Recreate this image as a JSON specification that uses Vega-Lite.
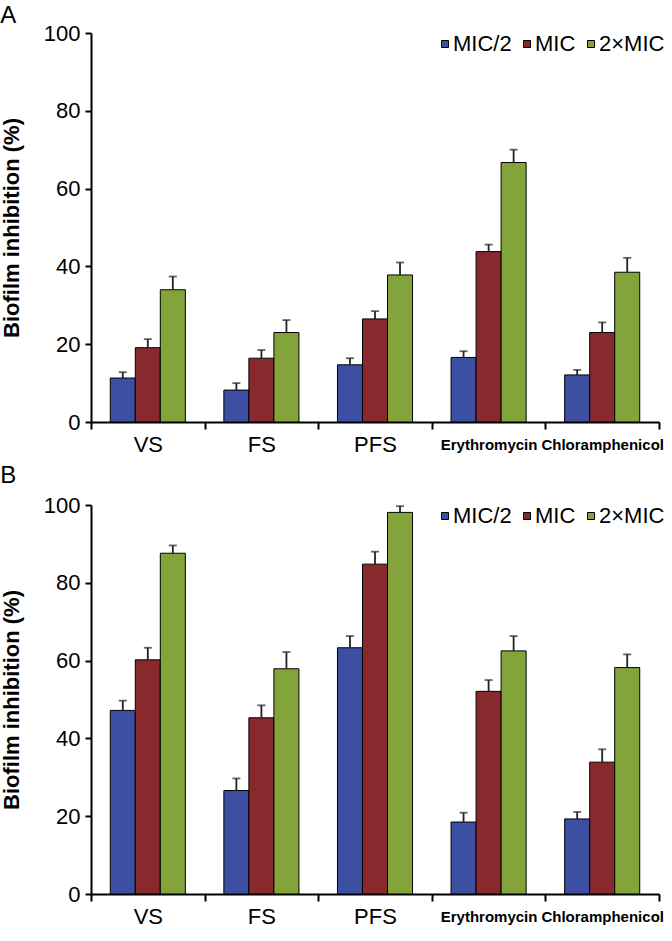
{
  "$schema": "https://vega.github.io/schema/vega-lite/v6.json",
  "padding": {"left": 0, "top": 4, "right": 2, "bottom": 2},
  "config": {
    "font": "Liberation Sans",
    "view": {"stroke": null},
    "concat": {"spacing": 9},
    "axis": {"labelColor": "black", "titleColor": "black"}
  },
  "datasets": {
    "a": [
      {"agent": "VS", "conc": "MIC/2", "value": 11.3, "upper": 12.8},
      {"agent": "VS", "conc": "MIC", "value": 19.1, "upper": 21.3},
      {"agent": "VS", "conc": "2×MIC", "value": 34.0, "upper": 37.4},
      {"agent": "FS", "conc": "MIC/2", "value": 8.2, "upper": 10.0},
      {"agent": "FS", "conc": "MIC", "value": 16.4, "upper": 18.5},
      {"agent": "FS", "conc": "2×MIC", "value": 23.0, "upper": 26.2},
      {"agent": "PFS", "conc": "MIC/2", "value": 14.7, "upper": 16.4},
      {"agent": "PFS", "conc": "MIC", "value": 26.5, "upper": 28.5},
      {"agent": "PFS", "conc": "2×MIC", "value": 37.8, "upper": 41.0},
      {"agent": "Erythromycin", "conc": "MIC/2", "value": 16.6, "upper": 18.2},
      {"agent": "Erythromycin", "conc": "MIC", "value": 43.8, "upper": 45.6},
      {"agent": "Erythromycin", "conc": "2×MIC", "value": 66.7, "upper": 70.0},
      {"agent": "Chloramphenicol", "conc": "MIC/2", "value": 12.1, "upper": 13.4},
      {"agent": "Chloramphenicol", "conc": "MIC", "value": 23.0, "upper": 25.6},
      {"agent": "Chloramphenicol", "conc": "2×MIC", "value": 38.5, "upper": 42.2}
    ],
    "b": [
      {"agent": "VS", "conc": "MIC/2", "value": 47.2, "upper": 49.7},
      {"agent": "VS", "conc": "MIC", "value": 60.2, "upper": 63.3},
      {"agent": "VS", "conc": "2×MIC", "value": 87.6, "upper": 89.6},
      {"agent": "FS", "conc": "MIC/2", "value": 26.6, "upper": 29.7},
      {"agent": "FS", "conc": "MIC", "value": 45.3, "upper": 48.5},
      {"agent": "FS", "conc": "2×MIC", "value": 57.9, "upper": 62.2},
      {"agent": "PFS", "conc": "MIC/2", "value": 63.3, "upper": 66.3},
      {"agent": "PFS", "conc": "MIC", "value": 84.8, "upper": 88.0},
      {"agent": "PFS", "conc": "2×MIC", "value": 98.1, "upper": 99.7},
      {"agent": "Erythromycin", "conc": "MIC/2", "value": 18.5, "upper": 20.9},
      {"agent": "Erythromycin", "conc": "MIC", "value": 52.1, "upper": 55.0},
      {"agent": "Erythromycin", "conc": "2×MIC", "value": 62.5, "upper": 66.3},
      {"agent": "Chloramphenicol", "conc": "MIC/2", "value": 19.3, "upper": 21.1},
      {"agent": "Chloramphenicol", "conc": "MIC", "value": 33.9, "upper": 37.2},
      {"agent": "Chloramphenicol", "conc": "2×MIC", "value": 58.2, "upper": 61.6}
    ]
  },
  "resolve": {"legend": {"color": "independent"}},
  "vconcat": [
    {
      "width": 568,
      "height": 389,
      "data": {"name": "a"},
      "title": {"text": "A", "anchor": "start", "frame": "bounds", "fontSize": 24, "fontWeight": "normal", "color": "black", "offset": -6},
      "encoding": {
        "x": {
          "field": "agent", "type": "nominal",
          "sort": ["VS", "FS", "PFS", "Erythromycin", "Chloramphenicol"],
          "scale": {"paddingInner": 0, "paddingOuter": 0},
          "axis": {
            "title": null, "labelAngle": 0, "tickBand": "extent", "tickSize": 7, "tickWidth": 2, "tickColor": "black",
            "domainColor": "black", "domainWidth": 2, "labelBaseline": "middle", "labelPadding": 15,
            "labelFontSize": {"expr": "length(datum.label) > 5 ? 15 : 22"},
            "labelFontWeight": {"expr": "length(datum.label) > 5 ? 'bold' : 'normal'"}
          }
        },
        "xOffset": {"field": "conc", "type": "nominal", "sort": ["MIC/2", "MIC", "2×MIC"], "scale": {"paddingInner": 0, "paddingOuter": 0.77}}
      },
      "layer": [
        {
          "mark": {"type": "bar", "stroke": "black", "strokeWidth": 1},
          "encoding": {
            "y": {
              "field": "value", "type": "quantitative", "scale": {"domain": [0, 100]},
              "axis": {"title": "Biofilm inhibition (%)", "values": [0, 20, 40, 60, 80, 100], "grid": false,
                "domainColor": "black", "domainWidth": 2, "tickColor": "black", "tickWidth": 2, "tickSize": 6,
                "labelFontSize": 22, "labelPadding": 5, "titleFontSize": 22, "titleFontWeight": "bold", "titlePadding": 20}
            },
            "color": {
              "field": "conc", "type": "nominal", "sort": ["MIC/2", "MIC", "2×MIC"],
              "scale": {"domain": ["MIC/2", "MIC", "2×MIC"], "range": ["#3D4FA3", "#88292D", "#82A43A"]},
              "legend": {"title": null, "orient": "none", "legendX": 343, "legendY": 0, "direction": "horizontal",
                "symbolType": "square", "symbolSize": 49, "symbolStrokeColor": "black", "symbolStrokeWidth": 1,
                "labelFontSize": 22, "labelColor": "black", "labelOffset": -3, "columnPadding": 4}
            }
          }
        },
        {
          "mark": {"type": "rule", "color": "#222222", "strokeWidth": 1.8},
          "encoding": {"y": {"field": "value", "type": "quantitative"}, "y2": {"field": "upper"}}
        },
        {
          "mark": {"type": "tick", "color": "#222222", "thickness": 1.8, "size": 8},
          "encoding": {"y": {"field": "upper", "type": "quantitative"}}
        }
      ]
    },
    {
      "width": 568,
      "height": 389,
      "data": {"name": "b"},
      "title": {"text": "B", "anchor": "start", "frame": "bounds", "fontSize": 24, "fontWeight": "normal", "color": "black", "offset": 6},
      "encoding": {
        "x": {
          "field": "agent", "type": "nominal",
          "sort": ["VS", "FS", "PFS", "Erythromycin", "Chloramphenicol"],
          "scale": {"paddingInner": 0, "paddingOuter": 0},
          "axis": {
            "title": null, "labelAngle": 0, "tickBand": "extent", "tickSize": 7, "tickWidth": 2, "tickColor": "black",
            "domainColor": "black", "domainWidth": 2, "labelBaseline": "middle", "labelPadding": 15,
            "labelFontSize": {"expr": "length(datum.label) > 5 ? 15 : 22"},
            "labelFontWeight": {"expr": "length(datum.label) > 5 ? 'bold' : 'normal'"}
          }
        },
        "xOffset": {"field": "conc", "type": "nominal", "sort": ["MIC/2", "MIC", "2×MIC"], "scale": {"paddingInner": 0, "paddingOuter": 0.77}}
      },
      "layer": [
        {
          "mark": {"type": "bar", "stroke": "black", "strokeWidth": 1},
          "encoding": {
            "y": {
              "field": "value", "type": "quantitative", "scale": {"domain": [0, 100]},
              "axis": {"title": "Biofilm inhibition (%)", "values": [0, 20, 40, 60, 80, 100], "grid": false,
                "domainColor": "black", "domainWidth": 2, "tickColor": "black", "tickWidth": 2, "tickSize": 6,
                "labelFontSize": 22, "labelPadding": 5, "titleFontSize": 22, "titleFontWeight": "bold", "titlePadding": 20}
            },
            "color": {
              "field": "conc", "type": "nominal", "sort": ["MIC/2", "MIC", "2×MIC"],
              "scale": {"domain": ["MIC/2", "MIC", "2×MIC"], "range": ["#3D4FA3", "#88292D", "#82A43A"]},
              "legend": {"title": null, "orient": "none", "legendX": 343, "legendY": 0, "direction": "horizontal",
                "symbolType": "square", "symbolSize": 49, "symbolStrokeColor": "black", "symbolStrokeWidth": 1,
                "labelFontSize": 22, "labelColor": "black", "labelOffset": -3, "columnPadding": 4}
            }
          }
        },
        {
          "mark": {"type": "rule", "color": "#222222", "strokeWidth": 1.8},
          "encoding": {"y": {"field": "value", "type": "quantitative"}, "y2": {"field": "upper"}}
        },
        {
          "mark": {"type": "tick", "color": "#222222", "thickness": 1.8, "size": 8},
          "encoding": {"y": {"field": "upper", "type": "quantitative"}}
        }
      ]
    }
  ]
}
